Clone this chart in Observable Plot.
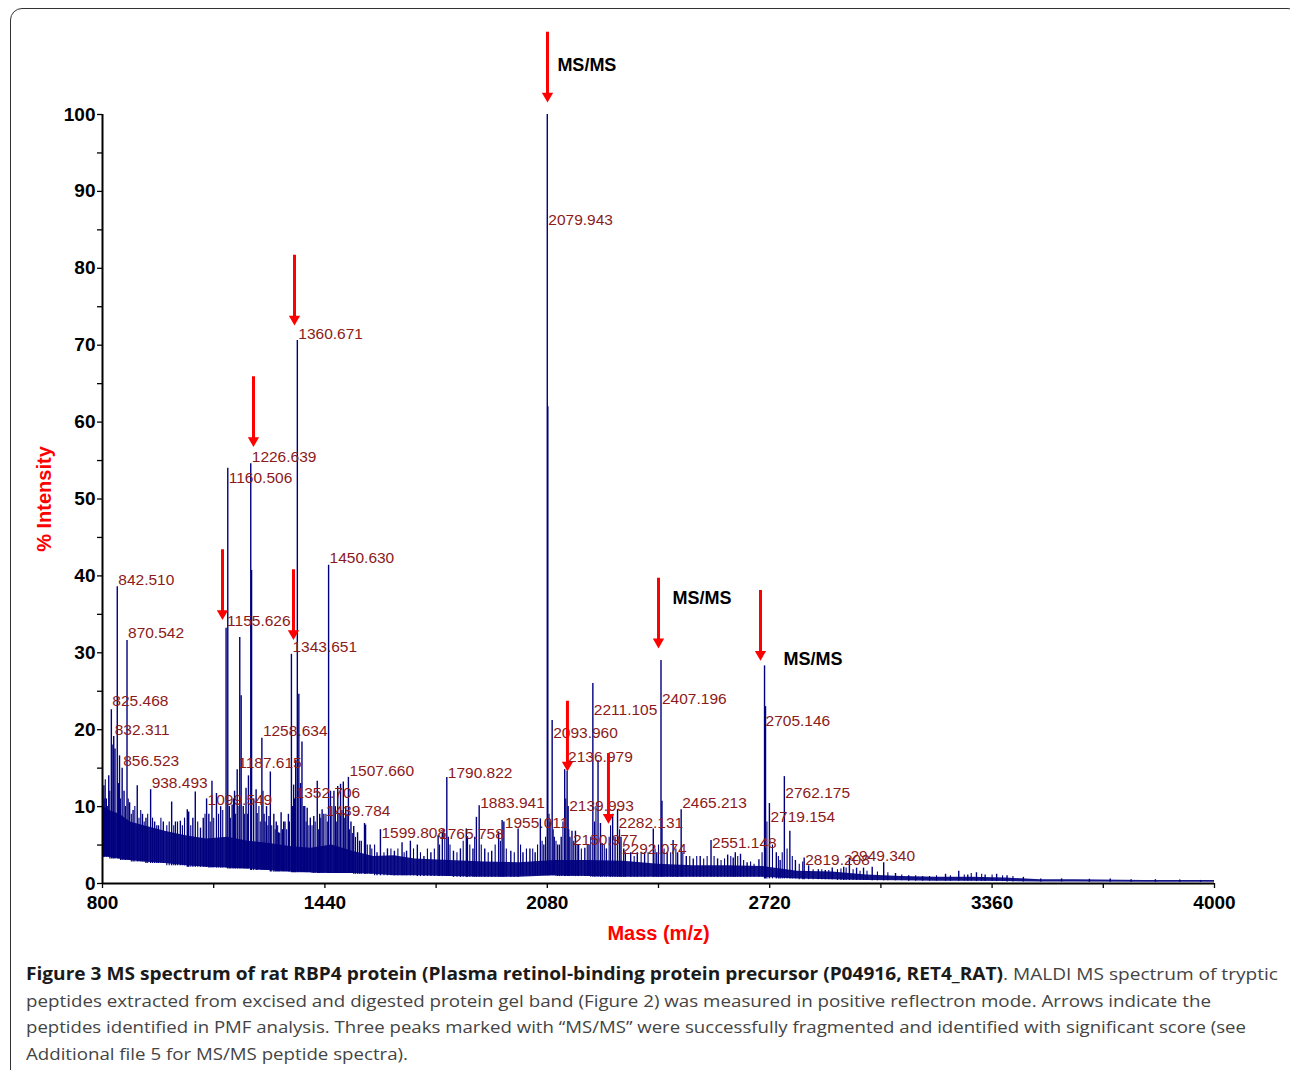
<!DOCTYPE html>
<html><head><meta charset="utf-8">
<script src="https://cdn.jsdelivr.net/npm/d3@7"></script>
<script src="https://cdn.jsdelivr.net/npm/@observablehq/plot@0.6"></script>
<style>
html,body{margin:0;padding:0;background:#fff;width:1290px;height:1070px;overflow:hidden;}
#frame{position:absolute;left:10px;top:8px;width:1290px;height:1100px;border:1px solid #333;border-radius:12px;box-sizing:border-box;}
#chart{position:absolute;left:0;top:0;}
#cap{position:absolute;left:26px;top:961px;font-family:"Open Sans",sans-serif;font-size:17px;color:#444;}
#cap div{white-space:nowrap;height:26.7px;line-height:26.7px;transform-origin:0 50%;display:block;width:max-content;}
#cap b{color:#1a1a1a;font-weight:700}
</style></head><body>
<div id="frame"></div>
<div id="chart"></div>
<div id="cap">
<div data-w="1252"><b>Figure 3 MS spectrum of rat RBP4 protein (Plasma retinol-binding protein precursor (P04916, RET4_RAT)</b>. MALDI MS spectrum of tryptic</div>
<div data-w="1185">peptides extracted from excised and digested protein gel band (Figure 2) was measured in positive reflectron mode. Arrows indicate the</div>
<div data-w="1220">peptides identified in PMF analysis. Three peaks marked with “MS/MS” were successfully fragmented and identified with significant score (see</div>
<div data-w="382">Additional file 5 for MS/MS peptide spectra).</div>
</div>
<script>
// ---- data ----
// noise band envelope (% intensity)
const bandMass = [800, 820, 850, 880, 920, 980, 1040, 1100, 1160, 1220, 1280, 1340, 1400, 1460, 1520, 1580, 1640, 1700, 1800, 1900, 2000, 2100, 2200, 2300, 2400, 2500, 2600, 2700, 2800, 2900, 3000, 3100, 3200, 3300, 3400, 3500, 3600, 3800, 4000];
const bandHigh = [10, 9.5, 9, 8, 7.5, 6.8, 6.2, 5.8, 6, 5.5, 5.2, 4.8, 4.6, 5, 4.2, 3.5, 3.6, 3.2, 3, 2.8, 2.7, 3, 3, 2.9, 2.5, 2.3, 2.3, 2.2, 1.6, 1.5, 1.1, 0.9, 0.8, 0.8, 0.7, 0.5, 0.5, 0.4, 0.4];
const bandLow = [3.6, 3.4, 3.2, 3.0, 2.8, 2.6, 2.3, 2.1, 2.0, 1.9, 1.7, 1.5, 1.4, 1.3, 1.3, 1.2, 1.0, 1.0, 0.9, 0.8, 0.8, 1.0, 0.9, 0.8, 0.8, 0.8, 0.8, 0.8, 0.6, 0.5, 0.4, 0.35, 0.3, 0.3, 0.25, 0.2, 0.2, 0.15, 0.15];

// main peaks (m/z, % intensity)
const peakMass = [803, 804, 811, 818, 825.468, 832.311, 836, 842.510, 849, 856.523, 862, 870.542, 878, 888, 900, 915, 925, 938.493, 950, 961, 975, 999, 1010, 1024, 1044, 1048, 1060, 1067, 1082, 1090, 1099.549, 1106, 1115, 1128, 1140, 1155.626, 1160.506, 1165, 1173, 1180, 1187.615, 1195, 1199, 1205, 1213, 1220, 1226.639, 1229, 1235, 1242, 1245, 1258.634, 1265, 1272, 1279, 1283, 1293, 1300, 1307, 1314, 1325, 1335, 1343.651, 1350, 1352.706, 1356, 1360.671, 1365, 1370, 1374, 1382, 1389, 1398, 1408, 1418, 1425, 1432, 1437, 1450.630, 1456, 1466, 1470, 1477, 1485, 1493, 1500, 1507.660, 1515, 1523, 1534, 1540, 1554, 1557, 1570, 1590, 1599.808, 1620, 1640, 1662, 1675, 1686, 1706, 1725, 1745, 1765.758, 1778, 1790.822, 1795, 1810, 1830, 1847, 1850, 1866, 1876, 1883.941, 1900, 1920, 1940, 1950, 1955.011, 1975, 1996, 2010, 2030, 2045, 2060, 2070, 2079.943, 2081.5, 2088, 2093.960, 2100, 2110, 2120, 2130, 2136.979, 2139.993, 2145, 2150.977, 2161, 2170, 2188, 2200, 2211.105, 2226, 2233, 2238, 2250, 2268, 2275, 2282.131, 2292.074, 2300, 2320, 2339, 2360, 2385, 2395, 2407.196, 2410, 2425, 2442, 2455, 2465.213, 2480, 2500, 2520, 2551.148, 2570, 2599, 2615, 2621, 2636, 2655, 2689, 2705.146, 2708, 2719.154, 2739, 2750, 2762.175, 2778, 2794, 2819.208, 2832, 2860, 2880, 2900, 2933, 2949.340, 2970, 2990, 3015, 3048, 3082, 3120, 3160, 3226, 3264, 3290, 3315, 3340, 3373, 3403, 3450, 3500, 3560, 3640, 3700, 3760, 3830, 3900, 3960];
const peakInt = [9.5, 12.7, 11, 14, 22.6, 19.1, 17.5, 38.6, 16.6, 15.0, 12, 31.6, 10.5, 9.5, 12.7, 9, 8.5, 12.2, 8, 7.5, 8, 10.6, 8, 8.1, 9.6, 9.3, 8.5, 11.9, 7.2, 8.5, 11, 9, 13.3, 11.7, 10, 33.2, 54.0, 10, 10.2, 12, 14.8, 32, 24.4, 10, 12.4, 14, 54.6, 40.7, 11, 12.2, 9.1, 18.9, 9, 10, 8.7, 14.5, 9, 8, 6.6, 9.2, 8, 9, 29.8, 12.8, 11, 16, 70.6, 24.6, 13, 18.4, 10, 9.8, 8.5, 8.7, 13.3, 9, 9.6, 9, 41.4, 12, 12, 10, 12.6, 12.9, 13.2, 10, 13.8, 8, 7.4, 6.6, 5.5, 7.8, 7.6, 5, 4.0, 7, 4.5, 4.2, 5.3, 4.2, 5.5, 5, 3.5, 4, 6.2, 6.7, 13.8, 6, 4.2, 4.5, 7.1, 6.1, 4.5, 8.6, 10.1, 4.5, 4.2, 6.7, 8.2, 8.0, 4.2, 7.1, 4, 4.5, 4, 8.4, 5, 100, 62, 8, 21.2, 6, 5, 6, 14.8, 14.6, 10, 6, 6.8, 6.8, 5, 4.6, 5, 26, 16, 7.8, 5.2, 4.5, 9, 6, 9.6, 6, 4.5, 4, 4.0, 4, 7.1, 4, 29, 10.7, 4, 5.6, 4, 9.6, 3.5, 3.2, 3.5, 5.6, 3.2, 3.7, 3.3, 4.0, 3.8, 2.7, 3.1, 28.3, 23, 10.4, 4.0, 3, 13.9, 6.8, 3.0, 3.3, 2.3, 1.8, 1.7, 2, 2.1, 3.3, 2, 2, 2.1, 2.7, 1.3, 1.0, 0.9, 1.2, 1.6, 1.1, 1.4, 1.1, 1.2, 1.0, 0.8, 0.6, 0.6, 0.55, 0.6, 0.5, 0.5, 0.45, 0.4];

// small noise spikes on top of the band (m/z, % intensity)
const spikeMass = [805, 808, 814, 821, 828, 846, 852, 866, 874, 883, 893, 905, 910, 920, 930, 944, 956, 968, 985, 992, 1005, 1016, 1030, 1036, 1054, 1074, 1095, 1110, 1120, 1134, 1146, 1168, 1177, 1183, 1190, 1209, 1217, 1250, 1254, 1262, 1268, 1276, 1287, 1297, 1304, 1310, 1318, 1321, 1330, 1338, 1347, 1378, 1386, 1394, 1403, 1412, 1422, 1428, 1443, 1447, 1460, 1474, 1481, 1489, 1497, 1504, 1511, 1519, 1528, 1545, 1562, 1575, 1583, 1610, 1630, 1650, 1668, 1695, 1715, 1735, 1755, 1770, 1785, 1800, 1820, 1838, 1857, 1871, 1890, 1910, 1930, 1945, 1962, 1985, 2003, 2020, 2038, 2052, 2065, 2075, 2085, 2097, 2105, 2115, 2125, 2133, 2142, 2156, 2166, 2178, 2195, 2205, 2216, 2220, 2244, 2258, 2262, 2288, 2305, 2330, 2350, 2370, 2390, 2400, 2416, 2435, 2450, 2470, 2490, 2510, 2530, 2540, 2560, 2580, 2590, 2608, 2628, 2645, 2665, 2675, 2698, 2712, 2728, 2745, 2756, 2770, 2785, 2805, 2815, 2845, 2870, 2890, 2915, 2925, 2940, 2960, 2980, 3000, 3030, 3060, 3100, 3140, 3180, 3200, 3240, 3280, 3300, 3330, 3360, 3390, 3420];
const spikeInt = [11, 13.5, 10, 12, 18, 13, 11, 10, 11, 9, 10, 8.5, 9.5, 8, 9, 8.5, 7.5, 8.5, 7.5, 8, 7.5, 8, 7.5, 8.5, 7.5, 8, 9, 8, 8.5, 9, 9.5, 8.5, 11, 9, 10, 9, 9, 10, 8, 12, 8, 7.5, 7.5, 7, 7.5, 6.5, 7, 8, 7, 8, 10, 10, 8, 7.5, 7.5, 8, 7, 8.5, 9, 8, 10, 8, 9, 9.5, 8.5, 9, 7, 6.5, 6, 5.5, 5, 4.5, 5, 4, 4.5, 4.5, 4, 4.5, 4, 4.5, 4.5, 5, 6.5, 5, 4, 5.5, 5, 6, 5, 4, 5, 5.5, 4.5, 4, 5, 4.5, 4.5, 5, 5.5, 6, 9, 7, 5.5, 5, 8, 11, 7, 5.5, 5, 4.5, 5, 6, 8, 10, 5, 6, 7.5, 7, 4, 3.5, 4, 4, 4.5, 5, 4.5, 4, 4.5, 4, 3.5, 3.5, 3.2, 3.5, 3.5, 3, 3.2, 3.5, 3.5, 3, 2.8, 2.5, 4, 8, 5, 3.5, 4, 4.5, 3.5, 2.5, 2.8, 1.8, 1.8, 1.7, 1.8, 1.9, 2, 1.8, 1.6, 1.6, 1.5, 1.4, 1.1, 1, 0.9, 1, 1, 1.1, 1.3, 1.2, 1.1, 1, 0.9];

// peak annotations: text and the intensity level where each sits
const labelText = ["842.510", "870.542", "825.468", "832.311", "856.523", "938.493", "1099.549", "1155.626", "1160.506", "1187.615", "1226.639", "1258.634", "1343.651", "1352.706", "1360.671", "1439.784", "1450.630", "1507.660", "1599.808", "1765.758", "1790.822", "1883.941", "1955.011", "2079.943", "2093.960", "2136.979", "2139.993", "2150.977", "2211.105", "2282.131", "2292.074", "2407.196", "2465.213", "2551.148", "2705.146", "2719.154", "2762.175", "2819.208", "2949.340"];
const labelLevel = [38.6, 31.6, 22.8, 19.1, 15.0, 12.2, 10.0, 33.2, 51.8, 14.8, 54.6, 18.9, 29.8, 10.9, 70.6, 8.5, 41.4, 13.7, 5.7, 5.5, 13.5, 9.6, 6.9, 85.4, 18.7, 15.6, 9.2, 4.7, 21.6, 7.0, 3.6, 23.1, 9.6, 4.4, 20.2, 7.7, 10.9, 2.2, 2.7];

// arrows (identified peptides): m/z position and tip level
const arrowMass = [2080.6, 1352.5, 1234.5, 1145.3, 1349.6, 2138, 2256, 2400, 2693.5];
const arrowTip = [101.6, 72.6, 56.8, 34.3, 31.7, 14.6, 7.8, 30.6, 29.0];

// MS/MS notes
const msmsText = ["MS/MS", "MS/MS", "MS/MS"];
const msmsMass = [2109, 2440, 2760];
const msmsLevel = [106.4, 37.1, 29.1];

// axes
const yTicks = [0, 10, 20, 30, 40, 50, 60, 70, 80, 90, 100];
const yMinor = [0, 5, 10, 15, 20, 25, 30, 35, 40, 45, 50, 55, 60, 65, 70, 75, 80, 85, 90, 95, 100];
const xTicks = [800, 1440, 2080, 2720, 3360, 4000];
const xMinor = [800, 1120, 1440, 1760, 2080, 2400, 2720, 3040, 3360, 3680, 4000];

// ---- build ----
const band = bandMass.map((m, i) => ({m, lo: bandLow[i], hi: bandHigh[i]}));
function baseAt(m) {
  let i = d3.bisectLeft(bandMass, m);
  if (i >= bandMass.length) i = bandMass.length - 1;
  return bandLow[i];
}
const peaks = peakMass.map((m, i) => ({m, v: peakInt[i], b: baseAt(m)}));
const spikes = spikeMass.map((m, i) => ({m, v: spikeInt[i], b: baseAt(m)}));
const labels = labelText.map((t, i) => ({m: +t, t, v: labelLevel[i]}));
const ARROW_LEN = 9.1;   // arrow length in % units
const HEAD = 1.0;        // room left for the arrow head
const arrows = arrowMass.map((m, i) => ({m, tip: arrowTip[i], tail: arrowTip[i] + ARROW_LEN}));
const msms = msmsText.map((t, i) => ({t, m: msmsMass[i], v: msmsLevel[i]}));

const NAVY = "#00007f";
const FONT = "'Liberation Sans', Arial, sans-serif";

const chart = Plot.plot({
  width: 1290, height: 960,
  marginLeft: 102, marginRight: 76, marginTop: 114, marginBottom: 77,
  x: {domain: [800, 4000], label: null},
  y: {domain: [0, 100], label: null},
  style: {fontFamily: FONT, background: "transparent", overflow: "visible"},
  marks: [
    Plot.areaY(band, {x: "m", y1: "lo", y2: "hi", fill: NAVY, fillOpacity: 0.92}),
    Plot.ruleX(spikes, {x: "m", y1: "b", y2: "v", stroke: NAVY, strokeWidth: 1.1}),
    Plot.ruleX(peaks, {x: "m", y1: "b", y2: "v", stroke: NAVY, strokeWidth: 1.4}),
    Plot.ruleX([800], {y1: 0, y2: 100, stroke: "#000", strokeWidth: 2}),
    Plot.ruleY([0], {stroke: "#000", strokeWidth: 2}),
    Plot.axisY(yMinor, {tickSize: 5, tickFormat: () => "", label: null, stroke: "#000", strokeWidth: 1.3}),
    Plot.axisY(yTicks, {tickSize: 0, tickPadding: 7, tickFormat: d => String(d), label: null, fontSize: 19, fontWeight: "bold", fill: "#000"}),
    Plot.axisX(xMinor, {tickSize: 5, tickFormat: () => "", label: null, stroke: "#000", strokeWidth: 1.3}),
    Plot.axisX(xTicks, {tickSize: 0, tickPadding: 12, tickFormat: d => String(d), label: null, fontSize: 19, fontWeight: "bold", fill: "#000"}),
    Plot.text(["% Intensity"], {frameAnchor: "left", textAnchor: "middle", lineAnchor: "middle", dx: -58, rotate: -90, text: d => d, fill: "#ff0000", fontSize: 20, fontWeight: "bold"}),
    Plot.text(["Mass (m/z)"], {frameAnchor: "bottom", textAnchor: "middle", lineAnchor: "middle", dy: 50, text: d => d, fill: "#ff0000", fontSize: 20, fontWeight: "bold"}),
    Plot.text(labels, {x: "m", y: "v", text: "t", textAnchor: "start", dx: 1, dy: -7, fill: "#8b1a1a", fontSize: 15.5}),
    Plot.ruleX(arrows, {x: "m", y1: d => d.tip + HEAD, y2: "tail", stroke: "#ff0000", strokeWidth: 3}),
    Plot.dot(arrows, {x: "m", y: "tip", symbol: "triangle", rotate: 180, r: 4.2, fill: "#ff0000", stroke: "none", dy: -6.3}),
    Plot.text(msms, {x: "m", y: "v", text: "t", textAnchor: "start", fill: "#000", fontSize: 18, fontWeight: "bold"})
  ]
});
document.getElementById("chart").appendChild(chart);

// fit caption lines to the reference line lengths
document.querySelectorAll("#cap div").forEach(el => {
  const target = +el.dataset.w;
  const w = el.getBoundingClientRect().width;
  if (w > 0) el.style.transform = `scaleX(${target / w})`;
});
</script>
</body></html>
